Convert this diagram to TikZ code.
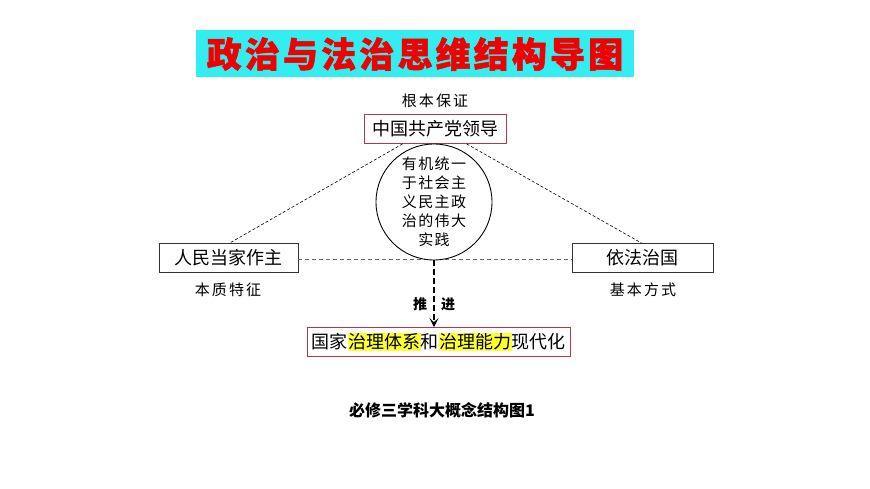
\documentclass[tikz,border=0pt]{standalone}
\usepackage{fontspec}
\usetikzlibrary{arrows.meta,calc}
\newfontfamily\cjk{Noto Sans CJK SC}
\newfontfamily\cjkls[LetterSpace=14]{Noto Sans CJK SC}
\newfontfamily\cjkcirc[LetterSpace=9]{Noto Sans CJK SC}
\newfontfamily\cjktitle[LetterSpace=9,BoldFeatures={FakeBold=1.5}]{Noto Sans CJK SC}
\definecolor{titlecyan}{HTML}{33EEF0}
\definecolor{titlered}{HTML}{F00000}
\definecolor{boxred}{HTML}{B03A48}
\definecolor{hlyellow}{HTML}{FFFF33}
\begin{document}
\begin{tikzpicture}[x=1pt,y=-1pt,
  mainbox/.style={draw=#1,line width=0.8pt,inner sep=0pt,minimum height=29pt,font=\cjk\fontsize{18}{20}\selectfont},
  smalllabel/.style={inner sep=0pt,font=\cjkls\fontsize{15}{17}\selectfont},
  thindash/.style={line width=0.6pt,dash pattern=on 3pt off 2pt},
  hdash/.style={line width=1pt,draw=black!60,dash pattern=on 4pt off 3pt}
]
\useasboundingbox[fill=white] (0,0) rectangle (870,489);
% title
\node[fill=titlecyan,minimum width=438pt,minimum height=47pt,inner sep=0pt,text=titlered,
  font=\cjktitle\bfseries\fontsize{35}{38}\selectfont] (title) at (415,54) {政治与法治思维结构导图};
% top
\node[smalllabel] (gen) at (435,101) {根本保证};
\node[mainbox=boxred,minimum width=142pt] (top) at (435,129) {中国共产党领导};
% side boxes
\node[mainbox=black!80,minimum width=139pt] (left) at (228.5,258) {人民当家作主};
\node[mainbox=black!80,minimum width=141pt] (right) at (642.5,258) {依法治国};
\node[smalllabel] (lleft) at (228,290) {本质特征};
\node[smalllabel] (lright) at (643,290) {基本方式};
% connectors
\coordinate (tl) at ($(top.south west)+(39,0)$);
\coordinate (tr) at ($(top.south west)+(103,0)$);
\coordinate (lt) at ($(left.north west)+(71,0)$);
\coordinate (rt) at ($(right.north west)+(70,0)$);
\draw[thindash] (tl) -- (lt);
\draw[thindash] (tr) -- (rt);
\draw[hdash] (left.east) ++(0,1) -- ($(right.west)+(0,1)$);
% circle
\node[circle,draw=black,line width=0.9pt,fill=white,minimum size=116pt,inner sep=0pt,align=center,
  font=\cjkcirc\fontsize{15}{19}\selectfont] (circ) at (434,202) {有机统一\\于社会主\\义民主政\\治的伟大\\实践};
% bottom box
\node[mainbox=boxred,minimum width=263pt] (bottom) at (438.5,342)
  {\setlength{\fboxsep}{0.5pt}国家\colorbox{hlyellow}{治理体系}和\colorbox{hlyellow}{治理能力}现代化};
% arrow
\draw[line width=1.8pt,dash pattern=on 6pt off 3pt,-{Stealth[length=9pt,width=9pt,inset=4pt]}] (circ.south) -- (circ.south |- bottom.north);
\node[inner sep=0pt,font=\cjk\bfseries\fontsize{14}{15}\selectfont] (tui) at (420,304) {推};
\node[inner sep=0pt,font=\cjk\bfseries\fontsize{14}{15}\selectfont] (jin) at (448,304) {进};
% caption
\node[inner sep=0pt,font=\cjk\bfseries\fontsize{16}{18}\selectfont] (cap) at (442,410) {必修三学科大概念结构图1};
\end{tikzpicture}
\end{document}
